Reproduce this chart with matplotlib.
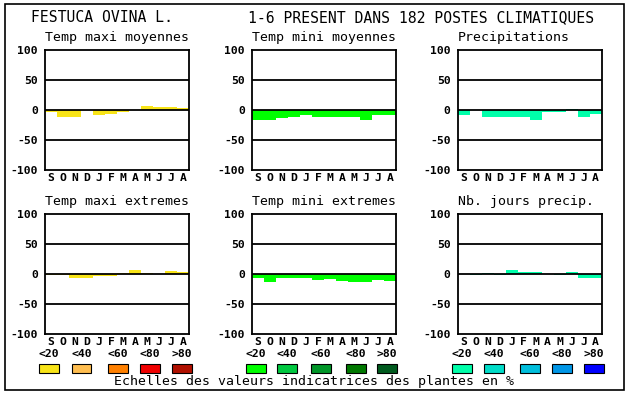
import matplotlib.pyplot as plt
from matplotlib.patches import Rectangle

months = ['S', 'O', 'N', 'D', 'J', 'F', 'M', 'A', 'M', 'J', 'J', 'A']

# ecarts en % par mois (sept -> aout)
tmax_moy = [-4, -12, -11, 0, -8, -6, -4, 0, 7, 5, 5, 4]
tmin_moy = [-16, -16, -14, -11, -8, -12, -12, -12, -12, -16, -8, -8]
precip = [-8, 0, -12, -12, -12, -12, -16, -4, -3, 2, -11, -6]
tmax_ext = [-2, -2, -6, -6, -4, -4, 2, 6, 2, 0, 5, 4]
tmin_ext = [-7, -14, -7, -7, -7, -10, -8, -12, -14, -14, -10, -12]
nb_jours = [0, -2, 2, -2, 6, 4, 4, 0, -2, 4, -7, -7]

titles = ['Temp maxi moyennes', 'Temp mini moyennes', 'Precipitations',
          'Temp maxi extremes', 'Temp mini extremes', 'Nb. jours precip.']
series = [tmax_moy, tmin_moy, precip, tmax_ext, tmin_ext, nb_jours]

scale_labels = ['<20', '<40', '<60', '<80', '>80']
scale_temp_max = ['#f8e418', '#ffbe50', '#ff8000', '#f00000', '#b01000']
scale_temp_min = ['#00ff00', '#00c840', '#009628', '#007800', '#005a1e']
scale_precip = ['#00ffaa', '#00dcc8', '#00bedc', '#0096e6', '#0000ff']
scales = [scale_temp_max, scale_temp_min, scale_precip]

W, H = 630, 394
fig = plt.figure(figsize=(W / 100, H / 100), dpi=100)
mono = 'DejaVu Sans Mono'

def fx(px):
    return px / W

def fy(py):
    return 1 - py / H

# outer frame
fig.patches.append(Rectangle((fx(5), fy(390)), fx(624) - fx(5), fy(4) - fy(390),
                             transform=fig.transFigure, fill=False, lw=1.2, ec='black'))

fig.text(fx(31), fy(18), 'FESTUCA OVINA L.', family=mono, fontsize=10.6, va='center')
fig.text(fx(248), fy(18), '1-6 PRESENT DANS 182 POSTES CLIMATIQUES', family=mono,
         fontsize=10.6, va='center')

lefts = [45, 252, 457.5]
tops = [50, 214]
for i, (vals, title) in enumerate(zip(series, titles)):
    row, col = divmod(i, 3)
    left, top = lefts[col], tops[row]
    ax = fig.add_axes([fx(left), fy(top + 120), 144 / W, 120 / H])
    color = scales[col][0]
    ax.bar(range(12), vals, width=1.0, color=color, zorder=1)
    for yv in (-50, 0, 50):
        ax.axhline(yv, color='black', lw=1.3, zorder=2)
    ax.set_xlim(-0.5, 11.5)
    ax.set_ylim(-100, 100)
    ax.set_yticks([-100, -50, 0, 50, 100])
    ax.set_yticklabels(['-100', '-50', '0', '50', '100'], family=mono,
                       fontsize=8.2, fontweight='bold')
    ax.set_xticks(range(12))
    ax.set_xticklabels(months, family=mono, fontsize=8.2, fontweight='bold')
    ax.tick_params(length=0, pad=2, axis='x')
    ax.tick_params(length=0, pad=5, axis='y')
    for s in ax.spines.values():
        s.set_linewidth(1.3)
    ax.text(0, 1.1, title, transform=ax.transAxes, family=mono, fontsize=9.5,
            va='center', ha='left')

# echelles de couleurs
swatch_x = [[49, 81.5, 117.5, 149.5, 182],
            [256, 287, 320.5, 355.5, 387],
            [462, 493.5, 529.5, 562, 593.5]]
for cols, xs in zip(scales, swatch_x):
    for c, lab, x in zip(cols, scale_labels, xs):
        fig.text(fx(x), fy(354), lab, family=mono, fontsize=8.2, fontweight='bold',
                 ha='center', va='center')
        fig.patches.append(Rectangle((fx(x - 10), fy(373)), 20 / W, 9 / H,
                                     transform=fig.transFigure, fc=c, ec='black', lw=0.8))

fig.text(fx(314), fy(382), 'Echelles des valeurs indicatrices des plantes en %',
         family=mono, fontsize=9.5, ha='center', va='center')

fig.savefig('out.png', dpi=100)
